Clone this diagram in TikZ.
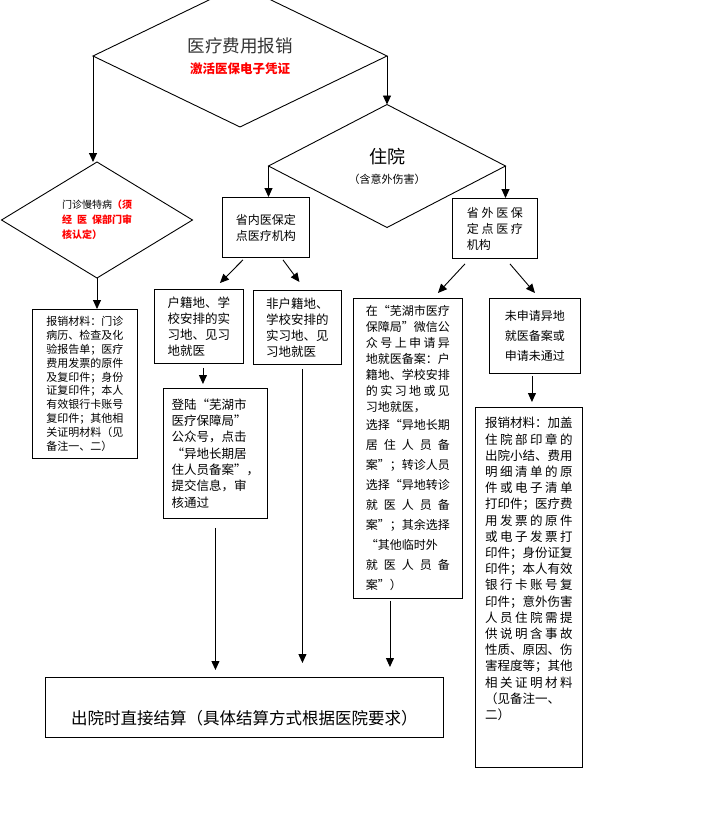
\documentclass[tikz,border=0pt]{standalone}
\usepackage{fontspec}
\setmainfont{Noto Sans CJK SC}
\definecolor{alert}{rgb}{1,0,0}
\usetikzlibrary{shapes.geometric,arrows.meta}
\newcommand{\zspread}[2][84pt]{\makebox[#1][s]{#2}}

\begin{document}
\begin{tikzpicture}[x=1pt,y=-1pt,
        box/.style={draw,line width=0.9pt,anchor=north west,inner sep=0pt,align=left},
        dia/.style={draw,diamond,line width=0.9pt,inner sep=0pt,outer sep=0pt,align=left},
        arr/.style={line width=0.9pt,-{Triangle[width=8pt,length=9pt]}}
    ]
    \useasboundingbox (0,0) rectangle (721,814);

    \node[dia,align=center,minimum width=294pt,minimum height=112pt,
        font=\fontsize{12.5}{21}\selectfont] (baoxiao) at (240,56)
        {{\color{black!80}\fontsize{17.5}{21}\selectfont 医疗费用报销}\\
         {\color{alert}\bfseries 激活医保电子凭证}};
    \node[dia,minimum width=191pt,minimum height=116pt,
        font=\fontsize{10}{15}\selectfont] (menzhen) at (97,220)
        {门诊慢特病{\color{alert}\bfseries（须}\\
         {\color{alert}\bfseries\zspread[70pt]{经 医 保部门审}}\\
         {\color{alert}\bfseries 核认定）}};
    \node[dia,align=center,minimum width=237pt,minimum height=123pt,
        font=\fontsize{11}{20}\selectfont] (zhuyuan) at (387,166)
        {{\fontsize{18}{20}\selectfont 住院}\\（含意外伤害）};

    \node[box,minimum width=105pt,minimum height=149pt,
        font=\fontsize{11}{13.8}\selectfont] (mzcl) at (32,309)
        {报销材料：门诊\\病历、检查及化\\验报告单；医疗\\费用发票的原件\\及复印件；身份\\
         证复印件；本人\\有效银行卡账号\\复印件；其他相\\关证明材料（见\\备注一、二）};
    \node[box,minimum width=87pt,minimum height=60pt,
        font=\fontsize{12}{16}\selectfont] (shengnei) at (222,197)
        {省内医保定\\点医疗机构};
    \node[box,minimum width=85pt,minimum height=60pt,
        font=\fontsize{12}{16}\selectfont] (shengwai) at (452,198)
        {省 外 医 保\\定 点 医 疗\\机构};
    \node[box,minimum width=89pt,minimum height=74pt,
        font=\fontsize{12.5}{16}\selectfont] (huji) at (154,289)
        {户籍地、学\\校安排的实\\习地、见习\\地就医};
    \node[box,minimum width=88pt,minimum height=74pt,
        font=\fontsize{12.5}{16}\selectfont] (feihuji) at (253,290)
        {非户籍地、\\学校安排的\\实习地、见\\习地就医};
    \node[box,minimum width=104pt,minimum height=130pt,
        font=\fontsize{12.5}{16.3}\selectfont] (denglu) at (163,388)
        {登陆“芜湖市\\医疗保障局”\\公众号，点击\\“异地长期居\\住人员备案”，\\提交信息，审\\核通过};
    \node[box,minimum width=109pt,minimum height=300pt,
        font=\fontsize{12}{16}\selectfont] (beian) at (353,298)
        {在“芜湖市医疗\\保障局”微信公\\\zspread{众 号 上 申 请 异}\\地就医备案：户\\
         籍地、学校安排\\\zspread{的 实 习 地 或 见}\\习地就医，\\[2pt]
         选择“异地长期\\[4pt]\zspread{居 住 人 员 备}\\[4pt]案”；转诊人员\\[4pt]
         选择“异地转诊\\[4pt]\zspread{就 医 人 员 备}\\[4pt]案”；其余选择\\[4pt]
         “其他临时外\\[4pt]\zspread{就 医 人 员 备}\\[4pt]案”）};
    \node[box,minimum width=91pt,minimum height=75pt,
        font=\fontsize{12}{20}\selectfont] (weishen) at (489,298)
        {未申请异地\\就医备案或\\申请未通过};
    \node[box,minimum width=107pt,minimum height=360pt,
        font=\fontsize{12.5}{16.2}\selectfont] (zycl) at (475,407)
        {报销材料：加盖\\\zspread[87.5pt]{住 院 部 印 章 的}\\出院小结、费用\\
         \zspread[87.5pt]{明 细 清 单 的 原}\\\zspread[87.5pt]{件 或 电 子 清 单}\\打印件；医疗费\\
         \zspread[87.5pt]{用 发 票 的 原 件}\\\zspread[87.5pt]{或 电 子 发 票 打}\\印件；身份证复\\
         印件；本人有效\\\zspread[87.5pt]{银 行 卡 账 号 复}\\印件；意外伤害\\
         \zspread[87.5pt]{人 员 住 院 需 提}\\\zspread[87.5pt]{供 说 明 含 事 故}\\性质、原因、伤\\
         害程度等；其他\\\zspread[87.5pt]{相 关 证 明 材 料}\\（见备注一、\\二）\\[22pt]\mbox{}};
    \node[box,minimum width=398pt,minimum height=60pt,text height=38pt,text depth=4pt,
        font=\fontsize{16.5}{20}\selectfont] (jiesuan) at (45,677)
        {出院时直接结算（具体结算方式根据医院要求）};

    \draw[arr] (baoxiao.west) -- (baoxiao.west |- menzhen.north);
    \draw[arr] (baoxiao.east) -- (baoxiao.east |- zhuyuan.north);
    \draw[arr] (menzhen.south) -- (menzhen.south |- mzcl.north);
    \draw[arr] (zhuyuan.west) -- (zhuyuan.west |- shengnei.north);
    \draw[arr] (zhuyuan.east) -- (zhuyuan.east |- shengwai.north);
    \draw[arr] ([xshift=-23pt,yshift=-2pt]shengnei.south) -- ([xshift=21pt,yshift=6pt]huji.north);
    \draw[arr] ([xshift=17pt,yshift=-2pt]shengnei.south) -- ([xshift=2pt,yshift=8pt]feihuji.north);
    \draw[arr] ([xshift=-30pt,yshift=-5pt]shengwai.south) -- ([xshift=30pt,yshift=5pt]beian.north);
    \draw[arr] ([xshift=15pt,yshift=-5pt]shengwai.south) -- ([xshift=0pt,yshift=5pt]weishen.north);
    \draw[arr] ([xshift=4pt,yshift=-4pt]huji.south) -- ([xshift=4pt,yshift=4pt]huji.south |- denglu.north);
    \draw[arr] ([yshift=-9pt]denglu.south) -- ([yshift=7pt]denglu.south |- jiesuan.north);
    \draw[arr] ([xshift=5pt,yshift=-4pt]feihuji.south) -- ([xshift=5pt,yshift=14pt]feihuji.south |- jiesuan.north);
    \draw[arr] ([xshift=-18pt,yshift=-2pt]beian.south) -- ([xshift=-18pt,yshift=10pt]beian.south |- jiesuan.north);
    \draw[arr] ([xshift=-3pt,yshift=-2pt]weishen.south) -- ([xshift=-3pt,yshift=5pt]weishen.south |- zycl.north);
\end{tikzpicture}
\end{document}
